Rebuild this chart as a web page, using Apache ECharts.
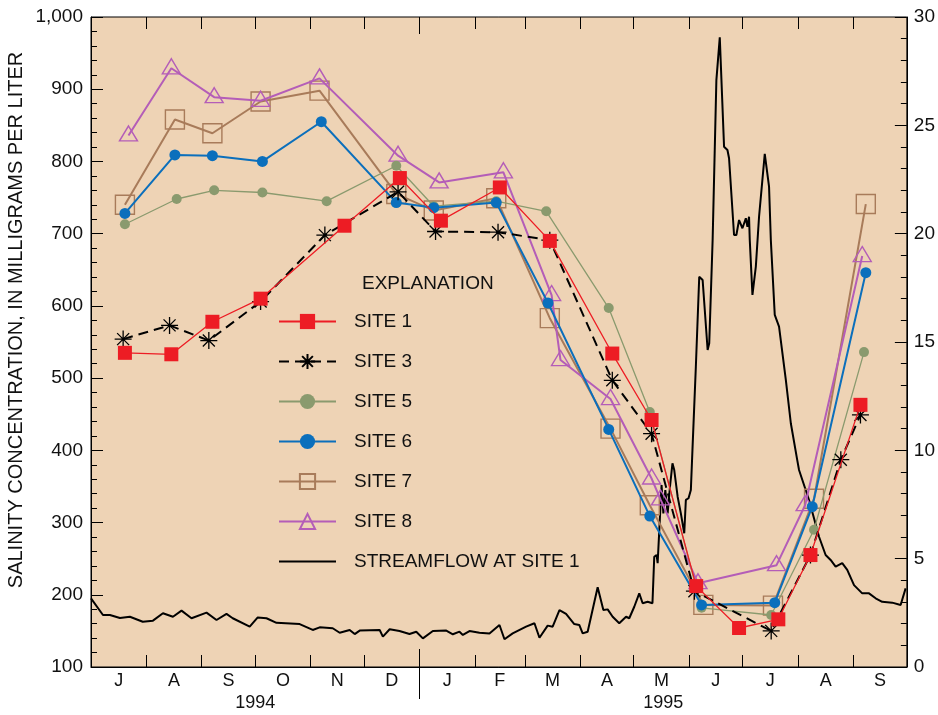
<!DOCTYPE html>
<html>
<head>
<meta charset="utf-8">
<script src="https://cdn.jsdelivr.net/npm/echarts@6/dist/echarts.min.js"></script>
<style>
html,body{margin:0;padding:0;background:#fff;}
#chart{width:938px;height:715px;}
</style>
</head>
<body>
<div id="chart"></div>
<script>
// ---------- DATA ----------
const monthStarts = ['1994-07-01','1994-08-01','1994-09-01','1994-10-01','1994-11-01','1994-12-01','1995-01-01','1995-02-01','1995-03-01','1995-04-01','1995-05-01','1995-06-01','1995-07-01','1995-08-01','1995-09-01','1995-10-01'];
const monthLabels = ['J','A','S','O','N','D','J','F','M','A','M','J','J','A','S'];
const yearStarts = ['1994-07-01','1995-01-01','1995-10-01'];
const yearLabels = ['1994','1995'];

const site1Dates = ['1994-07-20','1994-08-15','1994-09-07','1994-10-04','1994-11-20','1994-12-21','1995-01-13','1995-02-15','1995-03-15','1995-04-19','1995-05-11','1995-06-05','1995-06-29','1995-07-21','1995-08-08','1995-09-05'];
const site1Values = [535,533,578,610,711,777,718,764,690,534,442,212,154,166,255,463];

const site3Dates = ['1994-07-19','1994-08-14','1994-09-05','1994-10-04','1994-11-09','1994-12-20','1995-01-10','1995-02-14','1995-03-15','1995-04-19','1995-05-11','1995-06-04','1995-07-17','1995-08-08','1995-08-25','1995-09-05'];
const site3Values = [554,573,552,606,698,758,703,702,691,497,423,205,150,255,387,449];

const site5Dates = ['1994-07-20','1994-08-18','1994-09-08','1994-10-05','1994-11-10','1994-12-19','1995-01-09','1995-02-13','1995-03-13','1995-04-17','1995-05-10','1995-06-08','1995-07-17','1995-08-10','1995-09-07'];
const site5Values = [713,748,760,757,745,794,738,745,731,597,453,182,172,290,536];

const site6Dates = ['1994-07-20','1994-08-17','1994-09-07','1994-10-05','1994-11-07','1994-12-19','1995-01-09','1995-02-13','1995-03-14','1995-04-17','1995-05-10','1995-06-08','1995-07-19','1995-08-09','1995-09-08'];
const site6Values = [728,809,808,800,855,743,736,743,604,429,309,186,189,322,646];

const site7Dates = ['1994-07-20','1994-08-17','1994-09-07','1994-10-04','1994-11-06','1994-12-19','1995-01-09','1995-02-13','1995-03-15','1995-04-18','1995-05-10','1995-06-09','1995-07-18','1995-08-10','1995-09-08'];
const site7Values = [740,858,839,883,898,755,732,749,583,430,324,186,185,333,741];

const site8Dates = ['1994-07-22','1994-08-15','1994-09-08','1994-10-04','1994-11-06','1994-12-20','1995-01-12','1995-02-17','1995-03-16','1995-03-21','1995-04-18','1995-05-11','1995-05-16','1995-06-06','1995-07-20','1995-08-05','1995-09-06'];
const site8Values = [836,929,889,884,915,808,771,785,615,525,471,361,332,216,241,324,669];

// streamflow: days since 1994-07-01, cubic feet per second
const flowDays = [0,6.7,10.6,16.2,21.8,29,34.7,40.3,45.9,50.7,56.3,64.7,70.3,75.9,79.4,88.9,93.4,98.3,103.9,116.9,124.2,128.1,135.4,139.3,144.9,147.7,150.5,161.7,163.5,167.3,172.8,178.4,182.2,185.9,191.5,199,202.7,206.4,208.3,212,217.6,223.2,228.8,231.6,236.2,243.7,248.4,251.2,255.8,258.6,262.4,266.1,270.7,273.5,275.4,278.2,283.8,287,289.4,292.2,295.9,299.7,301.5,304.3,307.1,309,311.8,314.5,315.5,316.8,317.4,318.7,319.6,320.6,321.7,323,324.3,325.7,326.7,328.6,330.4,332.3,333.2,334.7,336,336.9,338.8,340.7,342.6,345.4,346.3,348.2,350.3,352.2,354.6,356.5,357.4,360.2,361.5,363,364.9,366.8,367.7,368.6,369,370.5,372.4,374.2,377.4,379.8,380.8,383,385.4,389.2,392,395.6,396.6,402.2,407.8,411.5,414.3,417.1,420.8,423.6,427.4,432,435.8,439.5,443.2,448.8,453.5,456.3];
const flowValues = [3.17,2.40,2.40,2.26,2.32,2.09,2.14,2.48,2.32,2.60,2.25,2.51,2.17,2.45,2.25,1.86,2.29,2.25,2.04,1.98,1.71,1.83,1.79,1.58,1.71,1.52,1.68,1.71,1.40,1.74,1.66,1.52,1.63,1.32,1.66,1.68,1.51,1.63,1.48,1.66,1.58,1.55,1.94,1.28,1.55,1.86,2.02,1.35,1.91,1.86,2.63,2.45,1.98,1.94,1.55,1.63,3.68,2.63,2.66,2.32,2.02,2.32,2.25,2.78,3.40,2.94,3.01,2.94,5.09,5.17,4.79,6.94,8.40,7.09,8.17,7.09,8.32,9.40,9.09,7.86,7.09,6.17,7.71,7.79,8.17,10.02,13.86,18.01,17.86,14.63,14.94,19.71,27.09,29.06,24.01,23.86,23.48,19.94,19.94,20.63,20.25,20.71,20.32,20.78,19.71,17.17,18.48,20.78,23.68,22.17,19.71,16.25,15.71,13.25,11.25,9.55,9.09,7.71,6.01,5.17,4.94,4.63,4.79,4.48,3.78,3.40,3.40,3.17,3.01,2.97,2.86,3.63];

// ---------- BUILD ----------
const DAY = 86400000;
// day number (UTC) for a date string
const dn = s => { const p = s.split('-').map(Number); return Date.UTC(p[0], p[1]-1, p[2]) / DAY; };
const monthD = monthStarts.map(dn);
const yearD = yearStarts.map(dn);
const dMin = monthD[0], dMax = monthD[monthD.length-1];
const yearBoundary = yearD[1];
const monthTickVals = monthD.slice(1, -1).filter(t => t !== yearBoundary);
const monthMids = monthLabels.map((_, i) => (monthD[i] + monthD[i+1]) / 2);
const yearMids = yearLabels.map((_, i) => (yearD[i] + yearD[i+1]) / 2);
const nearest = (arr, v) => { let b = 0; arr.forEach((a, i) => { if (Math.abs(a - v) < Math.abs(arr[b] - v)) b = i; }); return b; };
const pairs = (dates, vals) => dates.map((d, i) => [dn(d), vals[i]]);
const flowData = flowDays.map((d, i) => [dMin + d, flowValues[i]]);

const FONT = "'Liberation Sans', Arial, sans-serif";
const TXT = '#111';
const asterisk = 'path://M0,-10L0,10M-10,0L10,0M-7.07,-7.07L7.07,7.07M-7.07,7.07L7.07,-7.07';

const baseX = () => ({
  type: 'value', min: dMin, max: dMax, gridIndex: 0, scale: true,
  splitLine: { show: false }, axisLine: { show: false },
  axisLabel: { show: false }, axisTick: { show: false }
});

const option = {
  animation: false,
  backgroundColor: '#fff',
  textStyle: { fontFamily: FONT },
  grid: { left: 91, right: 30, top: 17, bottom: 48, show: true, backgroundColor: '#EED3B5', borderColor: '#000', borderWidth: 1 },
  xAxis: [
    Object.assign(baseX(), {
      position: 'bottom',
      axisLine: { show: true, lineStyle: { color: '#000', width: 1 } },
      axisTick: { show: true, inside: true, length: 12, customValues: monthTickVals, lineStyle: { color: '#000', width: 1 } },
      axisLabel: { show: true, customValues: monthMids, margin: 5, fontSize: 18, color: TXT, fontFamily: FONT,
        formatter: v => monthLabels[nearest(monthMids, v)] }
    }),
    Object.assign(baseX(), {
      position: 'bottom',
      axisTick: { show: true, inside: true, length: 18, customValues: [yearBoundary], lineStyle: { color: '#000', width: 1 } },
      axisLabel: { show: true, customValues: yearMids, margin: 27, fontSize: 18, color: TXT, fontFamily: FONT,
        formatter: v => yearLabels[nearest(yearMids, v)] }
    }),
    Object.assign(baseX(), {
      position: 'bottom',
      axisTick: { show: true, inside: false, length: 32, customValues: [yearBoundary], lineStyle: { color: '#000', width: 1 } }
    }),
    Object.assign(baseX(), {
      position: 'top',
      axisTick: { show: true, inside: true, length: 12, customValues: monthTickVals, lineStyle: { color: '#000', width: 1 } }
    }),
    Object.assign(baseX(), {
      position: 'top',
      axisTick: { show: true, inside: true, length: 17, customValues: [yearBoundary], lineStyle: { color: '#000', width: 1 } }
    })
  ],
  yAxis: [
    {
      type: 'value', position: 'left', min: 100, max: 1000, interval: 100,
      axisLine: { show: true, lineStyle: { color: '#000', width: 1 } },
      axisTick: { show: true, inside: true, length: 12, lineStyle: { color: '#000', width: 1 } },
      minorTick: { show: true, splitNumber: 5, length: 6, lineStyle: { color: '#000', width: 1 } },
      splitLine: { show: false }, minorSplitLine: { show: false },
      axisLabel: { margin: 8, fontSize: 19, color: TXT, fontFamily: FONT,
        formatter: v => v >= 1000 ? (Math.floor(v / 1000) + ',' + String(v % 1000).padStart(3, '0')) : String(v) }
    },
    {
      type: 'value', position: 'right', min: 0, max: 30, interval: 5,
      axisLine: { show: true, lineStyle: { color: '#000', width: 1 } },
      axisTick: { show: true, inside: true, length: 12, lineStyle: { color: '#000', width: 1 } },
      minorTick: { show: true, splitNumber: 5, length: 6, lineStyle: { color: '#000', width: 1 } },
      splitLine: { show: false }, minorSplitLine: { show: false },
      axisLabel: { margin: 7, fontSize: 19, color: TXT, fontFamily: FONT }
    }
  ],
  legend: {
    left: 278, top: 312, orient: 'vertical', padding: 0,
    itemWidth: 57, itemHeight: 19, itemGap: 21, selectedMode: false,
    textStyle: { fontSize: 19, color: TXT, fontFamily: FONT, padding: [0, 0, 0, 13] },
    data: ['SITE 1', 'SITE 3', 'SITE 5', 'SITE 6', 'SITE 7', 'SITE 8',
      { name: 'STREAMFLOW AT SITE 1', itemStyle: { opacity: 0, color: 'rgba(0,0,0,0)', borderWidth: 0 } }]
  },
  graphic: [
    { type: 'text', left: 362, top: 274, style: { text: 'EXPLANATION', fontSize: 19, fill: TXT, fontFamily: FONT } },
    { type: 'text', x: 16, y: 320, rotation: Math.PI / 2,
      style: { text: 'SALINITY CONCENTRATION, IN MILLIGRAMS PER LITER', fontSize: 20, fill: TXT, fontFamily: FONT, align: 'center', verticalAlign: 'middle' } }
  ],
  series: [
    { name: 'STREAMFLOW AT SITE 1', type: 'line', xAxisIndex: 0, yAxisIndex: 1, data: flowData,
      symbol: 'none', lineStyle: { color: '#000', width: 2 }, itemStyle: { color: '#000' }, z: 2 },
    { name: 'SITE 7', type: 'line', xAxisIndex: 0, yAxisIndex: 0, data: pairs(site7Dates, site7Values),
      symbol: 'rect', symbolSize: 19, showAllSymbol: true,
      lineStyle: { color: '#A87B5A', width: 2 },
      itemStyle: { color: 'rgba(0,0,0,0)', borderColor: '#A87B5A', borderWidth: 1.4 }, z: 3 },
    { name: 'SITE 8', type: 'line', xAxisIndex: 0, yAxisIndex: 0, data: pairs(site8Dates, site8Values),
      symbol: 'triangle', symbolSize: [18, 15], symbolOffset: [0, -2], showAllSymbol: true,
      lineStyle: { color: '#B45DB8', width: 2 },
      itemStyle: { color: 'rgba(0,0,0,0)', borderColor: '#B45DB8', borderWidth: 1.4 }, z: 4 },
    { name: 'SITE 5', type: 'line', xAxisIndex: 0, yAxisIndex: 0, data: pairs(site5Dates, site5Values),
      symbol: 'circle', symbolSize: 10, showAllSymbol: true,
      lineStyle: { color: '#8A9A6E', width: 1.3 },
      itemStyle: { color: '#8A9A6E' }, z: 5 },
    { name: 'SITE 6', type: 'line', xAxisIndex: 0, yAxisIndex: 0, data: pairs(site6Dates, site6Values),
      symbol: 'circle', symbolSize: 11, showAllSymbol: true,
      lineStyle: { color: '#0B6FBC', width: 2 },
      itemStyle: { color: '#0B6FBC' }, z: 6 },
    { name: 'SITE 3', type: 'line', xAxisIndex: 0, yAxisIndex: 0, data: pairs(site3Dates, site3Values),
      symbol: asterisk, symbolSize: 17, showAllSymbol: true,
      lineStyle: { color: '#000', width: 2, type: [10, 6] },
      itemStyle: { color: '#000', borderColor: '#000', borderWidth: 1.3 }, z: 7 },
    { name: 'SITE 1', type: 'line', xAxisIndex: 0, yAxisIndex: 0, data: pairs(site1Dates, site1Values),
      symbol: 'rect', symbolSize: 14, showAllSymbol: true,
      lineStyle: { color: '#ED1C24', width: 1.3 },
      itemStyle: { color: '#ED1C24' }, z: 8 }
  ]
};

const chart = echarts.init(document.getElementById('chart'), null, { renderer: 'canvas' });
chart.setOption(option);
</script>
</body>
</html>
